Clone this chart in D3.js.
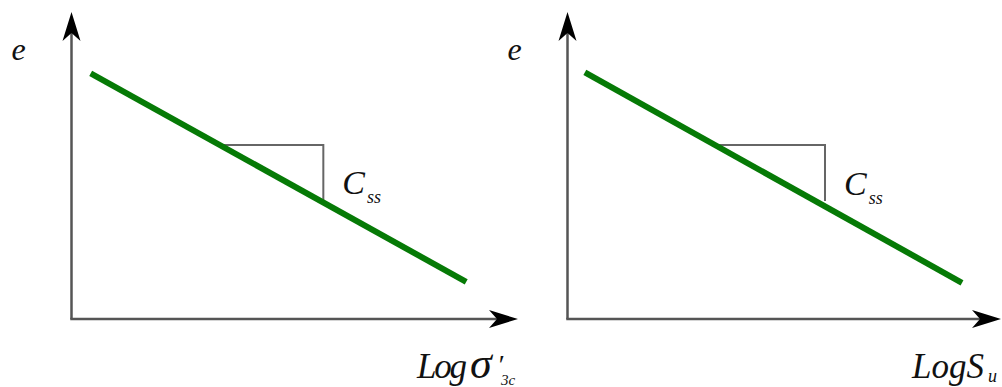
<!DOCTYPE html>
<html>
<head>
<meta charset="utf-8">
<script src="https://cdn.jsdelivr.net/npm/d3@7/dist/d3.min.js"></script>
<style>
  html, body { margin: 0; padding: 0; background: #fff; }
  svg { display: block; }
  text { font-family: "Liberation Serif", "Times New Roman", serif; font-style: italic; fill: #111; }
</style>
</head>
<body>
<svg id="chart" width="1002" height="387"></svg>
<script>
// Void ratio versus log stress: two schematic panels, each a straight
// line with a slope triangle marking the steady-state index C_ss.
const panelNames = ["sigma", "su"];
// Line endpoints in axis units (0..100 along each axis)
const lineSigma = [[4.3, 80.0], [88.4, 12.1]];
const lineSu    = [[4.0, 80.3], [91.0, 11.8]];
// Slope triangle: [x at left corner, x at right corner] and y levels [top, bottom]
const triXSigma = [32.7, 56.4];
const triYSigma = [56.7, 38.7];
const triXSu    = [34.5, 59.4];
const triYSu    = [56.7, 38.4];
// Axis labels
const yLabels = ["e", "e"];
const slopeLabel = ["C", "ss"];

const svg = d3.select("#chart");

// Pixel frame for each panel: origin and arrow tips
const frames = {
  sigma: { x0: 71.5, x1: 518, y0: 319, y1: 12 },
  su:    { x0: 567.5, x1: 1001, y0: 319, y1: 12 }
};

const panels = [
  { key: "sigma", line: lineSigma, triX: triXSigma, triY: triYSigma, yLabel: yLabels[0] },
  { key: "su",    line: lineSu,    triX: triXSu,    triY: triYSu,    yLabel: yLabels[1] }
];

const axisColor = "#555";
const arrowLen = 29, arrowHalf = 9, arrowNotch = 21;

panels.forEach(p => {
  const f = frames[p.key];
  const x = d3.scaleLinear().domain([0, 100]).range([f.x0, f.x1]);
  const y = d3.scaleLinear().domain([0, 100]).range([f.y0, f.y1]);
  const g = svg.append("g");

  // axes
  g.append("line")
    .attr("x1", x(0)).attr("y1", y(0)).attr("x2", x(0)).attr("y2", y(100) + arrowNotch)
    .attr("stroke", axisColor).attr("stroke-width", 2.5);
  g.append("line")
    .attr("x1", x(0) - 1.25).attr("y1", y(0)).attr("x2", x(100) - arrowNotch).attr("y2", y(0))
    .attr("stroke", axisColor).attr("stroke-width", 2.5);

  // arrowheads
  const tipY = [x(0), y(100)];
  g.append("path")
    .attr("d", `M${tipY[0]},${tipY[1]} L${tipY[0] - arrowHalf},${tipY[1] + arrowLen} L${tipY[0]},${tipY[1] + arrowNotch} L${tipY[0] + arrowHalf},${tipY[1] + arrowLen} Z`)
    .attr("fill", "#000");
  const tipX = [x(100), y(0)];
  g.append("path")
    .attr("d", `M${tipX[0]},${tipX[1]} L${tipX[0] - arrowLen},${tipX[1] - arrowHalf} L${tipX[0] - arrowNotch},${tipX[1]} L${tipX[0] - arrowLen},${tipX[1] + arrowHalf} Z`)
    .attr("fill", "#000");

  // slope triangle
  const tri = [[p.triX[0], p.triY[0]], [p.triX[1], p.triY[0]], [p.triX[1], p.triY[1]]];
  g.append("path")
    .attr("d", d3.line().x(d => x(d[0])).y(d => y(d[1]))(tri))
    .attr("fill", "none").attr("stroke", "#666").attr("stroke-width", 2);

  // e-log line
  g.append("path")
    .attr("d", d3.line().x(d => x(d[0])).y(d => y(d[1]))(p.line))
    .attr("fill", "none").attr("stroke", "#067a06").attr("stroke-width", 6);

  // y label
  g.append("text")
    .attr("x", x(0) - 60).attr("y", y(100) + 48)
    .attr("font-size", 32)
    .text(p.yLabel);

  // C_ss label
  const c = g.append("text")
    .attr("x", x(p.triX[1]) + 19).attr("y", y(p.triY[1]) - 6)
    .attr("font-size", 34);
  c.append("tspan").text(slopeLabel[0]);
  c.append("tspan").attr("font-size", 18).attr("dy", 9).attr("dx", 2).text(slopeLabel[1]);
});

// x-axis labels
svg.append("text").attr("x", 417).attr("y", 378).attr("font-size", 35)
  .attr("textLength", 50).attr("lengthAdjust", "spacing").text("Log");
svg.append("text").attr("x", 470).attr("y", 378).attr("font-size", 44).text("σ");
svg.append("text").attr("x", 497).attr("y", 374).attr("font-size", 28).text("′");
svg.append("text").attr("x", 501).attr("y", 385).attr("font-size", 15).text("3c");

const t2 = svg.append("text").attr("x", 912).attr("y", 378).attr("font-size", 35);
t2.append("tspan").text("LogS");
t2.append("tspan").attr("font-size", 18).attr("dx", 4).attr("dy", 4).text("u");
</script>
</body>
</html>
